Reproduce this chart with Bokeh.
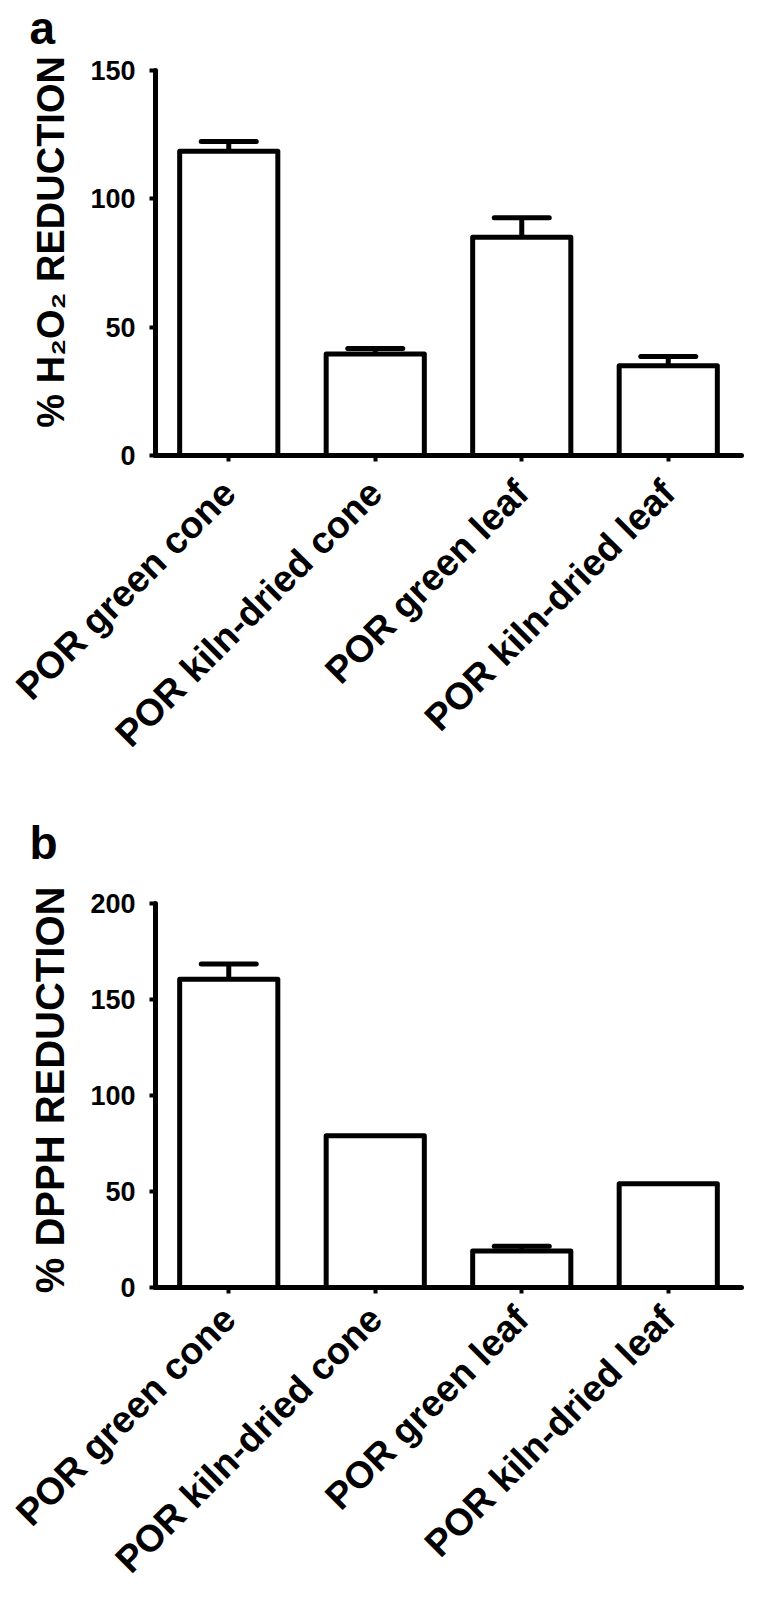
import math
from bokeh.plotting import figure
from bokeh.models import (ColumnDataSource, FactorRange, Range1d, FixedTicker,
                          Whisker, TeeHead)
from bokeh.layouts import column
from bokeh.embed import file_html
from bokeh.resources import INLINE

# ---------------- data ----------------
categories = ["POR green cone", "POR kiln-dried cone", "POR green leaf", "POR kiln-dried leaf"]
h2o2_values = [118.5, 39.5, 85.0, 35.0]
h2o2_errors = [3.8, 2.2, 7.6, 3.6]
dpph_values = [160.5, 79.0, 19.0, 54.0]
dpph_errors = [8.0, 0.0, 2.5, 0.0]
h2o2_ticks = [0, 50, 100, 150]
dpph_ticks = [0, 50, 100, 150, 200]
h2o2_label = "% H\u2082O\u2082 REDUCTION"
dpph_label = "% DPPH REDUCTION"

FONT = "Liberation Sans"
NBSP = "\u00a0"


def make_panel(values, errors, ticks, ymax, ylabel, ylabel_size, letter,
               width, height, margin_top, b_left, b_top, b_right, b_bottom,
               label_standoff, title_standoff):
    p = figure(x_range=FactorRange(*categories, range_padding=0),
               y_range=Range1d(0, ymax),
               width=width, height=height, output_backend="svg",
               toolbar_location=None, tools="",
               margin=(margin_top, 0, 0, 0),
               min_border_left=b_left, min_border_top=b_top,
               min_border_right=b_right, min_border_bottom=b_bottom)
    p.outline_line_color = None
    p.xgrid.grid_line_color = None
    p.ygrid.grid_line_color = None
    p.background_fill_color = None
    p.border_fill_color = None

    src = ColumnDataSource(dict(cat=categories, val=values))
    p.vbar(x="cat", top="val", bottom=0, width=0.67, source=src,
           fill_color="white", line_color="black", line_width=5, line_join="round")

    keep = [i for i, e in enumerate(errors) if e > 0]
    esrc = ColumnDataSource(dict(cat=[categories[i] for i in keep],
                                 val=[values[i] for i in keep],
                                 upper=[values[i] + errors[i] for i in keep]))
    w = Whisker(source=esrc, base="cat", lower="val", upper="upper",
                dimension="height", line_width=5, line_color="black",
                upper_head=TeeHead(size=55, line_width=5, line_color="black",
                                   line_cap="round"),
                lower_head=None)
    p.add_layout(w)

    for ax in (p.xaxis[0], p.yaxis[0]):
        ax.axis_line_width = 5
        ax.axis_line_color = "black"
        ax.axis_line_cap = "round"
        ax.major_tick_line_width = 4
        ax.major_tick_line_color = "black"
        ax.major_tick_out = 6
        ax.major_tick_in = 0
        ax.minor_tick_line_color = None
    p.yaxis.ticker = FixedTicker(ticks=ticks)
    p.yaxis.major_label_text_font = FONT
    p.yaxis.major_label_text_font_size = "27px"
    p.yaxis.major_label_text_font_style = "bold"
    p.yaxis.major_label_text_color = "black"
    p.yaxis.major_label_standoff = 14
    p.yaxis.axis_label = ylabel
    p.yaxis.axis_label_text_font = FONT
    p.yaxis.axis_label_text_font_size = ylabel_size
    p.yaxis.axis_label_text_font_style = "bold"
    p.yaxis.axis_label_text_color = "black"
    p.yaxis.axis_label_standoff = 15

    p.xaxis.major_label_orientation = math.pi / 4
    p.xaxis.major_label_text_font = FONT
    p.xaxis.major_label_text_font_size = "37.5px"
    p.xaxis.major_label_text_font_style = "bold"
    p.xaxis.major_label_text_color = "black"
    p.xaxis.major_label_standoff = label_standoff

    p.title.text = letter
    p.title.text_font = FONT
    p.title.text_font_size = "46px"
    p.title.text_font_style = "bold"
    p.title.text_color = "black"
    p.title.align = "left"
    p.title.offset = -126
    p.title.standoff = title_standoff
    return p


# panel a: frame x 155..763, y 70..456 (page); canvas starts 50px above page top
pa = make_panel(h2o2_values, h2o2_errors, h2o2_ticks, 150, NBSP * 4 + h2o2_label, "38px", "a",
                767, 822, -50, 155, 120, 4, 316, 25, 34)
# panel b: starts at page 772, frame x 152..741, y 903..~1288
pb = make_panel(dpph_values, dpph_errors, dpph_ticks, 200, NBSP + dpph_label, "40px", "b",
                767, 826, 0, 152, 131, 26, 310, 19, 70)

layout = column(pa, pb, spacing=0)
open("out.html", "w").write(file_html(layout, INLINE))
